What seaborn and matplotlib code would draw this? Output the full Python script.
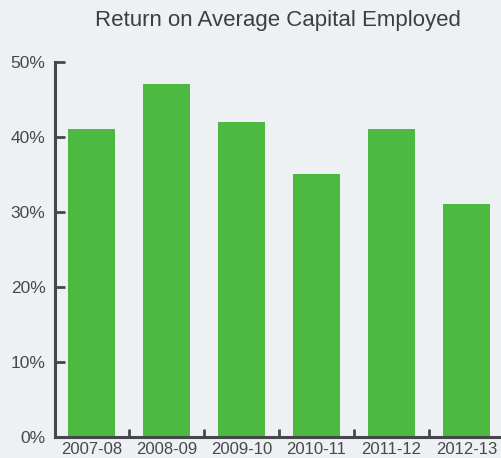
import matplotlib
matplotlib.use("Agg")
import matplotlib.pyplot as plt
from matplotlib.ticker import MultipleLocator, FixedLocator, PercentFormatter
import seaborn as sns
import pandas as pd

# Fiscal years and return on average capital employed (%)
years = ["2007-08", "2008-09", "2009-10", "2010-11", "2011-12", "2012-13"]
roace = [41, 47, 42, 35, 41, 31]

title = "Return on Average Capital Employed"
bar_color = "#4cba40"
bg_color = "#eef1f3"
axis_color = "#45474a"
text_color = "#46484b"

sns.set_theme(style="white")
plt.rcParams["font.family"] = ["Liberation Sans", "DejaVu Sans"]

df = pd.DataFrame({"year": years, "roace": roace})

fig = plt.figure(figsize=(5.01, 4.58), dpi=100, facecolor=bg_color)
ax = fig.add_axes([0.11, 0.046, 0.89, 0.819])
ax.set_facecolor(bg_color)

sns.barplot(data=df, x="year", y="roace", color=bar_color, saturation=1,
            width=0.63, linewidth=0, ax=ax)

ax.set_xlim(-0.487, 5.46)
ax.set_ylim(0, 50)
ax.set_xlabel("")
ax.set_ylabel("")

# Axis spines: only left and bottom
for side in ("top", "right"):
    ax.spines[side].set_visible(False)
for side in ("left", "bottom"):
    ax.spines[side].set_color(axis_color)
    ax.spines[side].set_linewidth(2.2)

ax.yaxis.set_major_locator(MultipleLocator(10))
ax.yaxis.set_major_formatter(PercentFormatter(decimals=0))
ax.tick_params(axis="y", left=True, direction="in", length=7, width=2,
               color=axis_color, labelsize=12.5, labelcolor=text_color, pad=7)

# Category labels under bars, small separators between categories
ax.tick_params(axis="x", which="major", bottom=True, length=0, labelsize=12,
               labelcolor=text_color, pad=4)
ax.xaxis.set_minor_locator(FixedLocator([i + 0.5 for i in range(len(years) - 1)]))
ax.tick_params(axis="x", which="minor", bottom=True, direction="in", length=6,
               width=2, color=axis_color)

fig.text(0.555, 0.955, title, ha="center", va="center", fontsize=16,
         color="#3c3e41")

fig.savefig("out.png", dpi=100, facecolor=bg_color)
